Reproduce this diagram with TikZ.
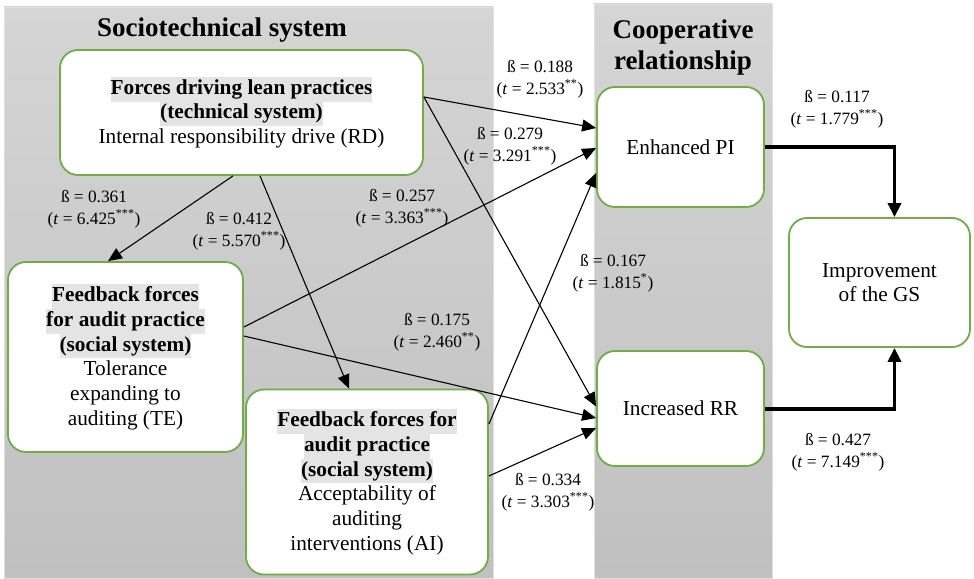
\documentclass[tikz,border=0pt]{standalone}
\usepackage{fontspec}
\setmainfont{Liberation Serif}
\usepackage{xcolor}
\usetikzlibrary{
    arrows.meta,
    positioning
}
\definecolor{boxgreen}{HTML}{70AD47}
\definecolor{hlgray}{HTML}{E4E4E4}
\definecolor{panelhi}{HTML}{D5D5D5}
\definecolor{panello}{HTML}{C0C0C0}
\newcommand{\hlt}[1]{{\setlength{\fboxsep}{0pt}\colorbox{hlgray}{\strut\textbf{#1}}}}
\newcommand{\bt}[2]{ß = #1\\(\textit{t} = #2)}
\tikzset{gbox/.style={draw=boxgreen, line width=1.8pt, fill=white, rounded corners=18pt, align=center, inner sep=0pt, font=\fontsize{21.3}{24.7}\selectfont}}
\tikzset{lbl/.style={align=center, inner sep=0pt, font=\fontsize{17.3}{22}\selectfont}}
\tikzset{arr/.style={line width=1.1pt, -{Triangle[length=14pt, width=12pt]}}}
\tikzset{thk/.style={line width=3.6pt, -{Triangle[length=14pt, width=13pt]}}}

\begin{document}
\begin{tikzpicture}[x=1pt, y=-1pt]
                    \useasboundingbox (0, 0) rectangle (974, 578);

                    \fill[top color=panelhi, bottom color=panello, draw=black!12] (4, 7) rectangle (493, 578);
                    \fill[top color=panelhi, bottom color=panello, draw=black!12] (594, 4) rectangle (772, 578);

                    \node[font=\fontsize{27}{30}\selectfont\bfseries] (sthead) at (222, 30) {Sociotechnical system};
                    \node[font=\fontsize{27}{31}\selectfont\bfseries, align=center] (crhead) at (683, 48) {Cooperative\\relationship};

                    \node[gbox, minimum width=363, minimum height=125] (rd) at (241.5, 112.5)
                        {\hlt{Forces driving lean practices}\\\hlt{(technical system)}\\Internal responsibility drive (RD)};
                    \node[gbox, minimum width=235, minimum height=190] (te) at (125.5, 357)
                        {\hlt{Feedback forces}\\\hlt{for audit practice}\\\hlt{(social system)}\\Tolerance\\expanding to\\auditing (TE)};
                    \node[gbox, minimum width=242, minimum height=185] (ai) at (367, 482)
                        {\hlt{Feedback forces for}\\\hlt{audit practice}\\\hlt{(social system)}\\Acceptability of\\auditing\\interventions (AI)};
                    \node[gbox, minimum width=167, minimum height=120] (pi) at (680.5, 147) {Enhanced PI};
                    \node[gbox, minimum width=167, minimum height=115] (rr) at (680.5, 408.5) {Increased RR};
                    \node[gbox, minimum width=181, minimum height=129] (gs) at (879.5, 282.5) {Improvement\\of the GS};

                    \node[lbl] (l188) at (540, 79) {\bt{0.188}{2.533\textsuperscript{**}}};
                    \node[lbl] (l279) at (510, 146) {\bt{0.279}{3.291\textsuperscript{***}}};
                    \node[lbl] (l257) at (402, 208) {\bt{0.257}{3.363\textsuperscript{***}}};
                    \node[lbl] (l361) at (94, 209) {\bt{0.361}{6.425\textsuperscript{***}}};
                    \node[lbl] (l412) at (239, 231) {\bt{0.412}{5.570\textsuperscript{***}}};
                    \node[lbl] (l175) at (437, 332) {\bt{0.175}{2.460\textsuperscript{**}}};
                    \node[lbl] (l167) at (613, 273) {\bt{0.167}{1.815\textsuperscript{*}}};
                    \node[lbl] (l334) at (548, 492) {\bt{0.334}{3.303\textsuperscript{***}}};
                    \node[lbl] (l117) at (837, 109) {\bt{0.117}{1.779\textsuperscript{***}}};
                    \node[lbl] (l427) at (838, 452) {\bt{0.427}{7.149\textsuperscript{***}}};

                    \draw
                    ([yshift=15.5pt]rd.east) edge[arr] ([yshift=19pt]pi.west)
                    ([yshift=15.5pt]rd.east) edge[arr] ([yshift=2pt]rr.west)
                    ([xshift=-8.5pt]rd.south) edge[arr] ([xshift=-17.5pt]te.north)
                    ([xshift=18.5pt]rd.south) edge[arr] ([xshift=-18pt]ai.north)
                    ([yshift=30pt]te.east) edge[arr] ([yshift=-1pt]pi.west)
                    ([yshift=21pt]te.east) edge[arr] ([yshift=-9.5pt]rr.west)
                    ([yshift=58pt]ai.east) edge[arr] ([yshift=-26pt]pi.west)
                    ([yshift=6pt]ai.east) edge[arr] ([yshift=-19.5pt]rr.west);

                    \draw[thk] (pi.east) -| ([xshift=15pt]gs.north);
                    \draw[thk] ([yshift=-0.5pt]rr.east) -| ([xshift=15pt]gs.south);
                \end{tikzpicture}
\end{document}
